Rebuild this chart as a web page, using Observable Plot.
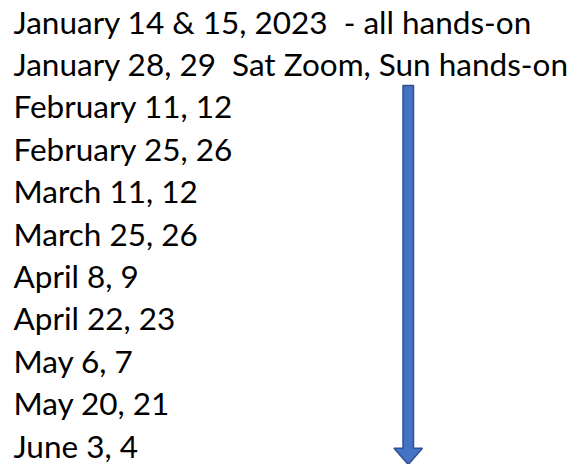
<!DOCTYPE html>
<html>
<head>
<meta charset="utf-8">
<script src="https://cdn.jsdelivr.net/npm/d3@7"></script>
<script src="https://cdn.jsdelivr.net/npm/@observablehq/plot@0.6"></script>
<style>
  html, body { margin: 0; padding: 0; background: #fff; }
</style>
</head>
<body>
<div id="chart"></div>
<script>
// Schedule lines (top to bottom)
const lines = [
  "January 14 & 15, 2023  - all hands-on",
  "January 28, 29  Sat Zoom, Sun hands-on",
  "February 11, 12",
  "February 25, 26",
  "March 11, 12",
  "March 25, 26",
  "April 8, 9",
  "April 22, 23",
  "May 6, 7",
  "May 20, 21",
  "June 3, 4"
];
// Down arrow outline (x in px units, y in row units)
const arrowX = [402.5, 413, 413, 422, 407.75, 393.5, 402.5, 402.5];
const arrowY = [1.46, 1.46, 10.02, 10.02, 10.4, 10.02, 10.02, 1.46];

const rows = lines.map((t, i) => ({text: t, row: i}));
const arrow = arrowX.map((x, i) => ({x, y: arrowY[i]}));

const fs = 31.5;
const chart = Plot.plot({
  width: 585,
  height: 464,
  margin: 0,
  x: {type: "linear", domain: [0, 585], range: [0, 585], axis: null},
  y: {type: "linear", domain: [0, 10], range: [23, 447], axis: null},
  marks: [
    Plot.line(arrow, {x: "x", y: "y", fill: "#4472C4", stroke: "#2F528F", strokeWidth: 1.5, strokeLinejoin: "miter"}),
    Plot.text(rows, {x: () => 13, y: "row", text: "text", textAnchor: "start", lineAnchor: "middle",
      fontSize: fs, fill: "#000", fontFamily: "Lato, 'Open Sans', sans-serif"})
  ]
});
chart.style.fontFamily = "Lato, sans-serif";
document.getElementById("chart").appendChild(chart);
</script>
</body>
</html>
